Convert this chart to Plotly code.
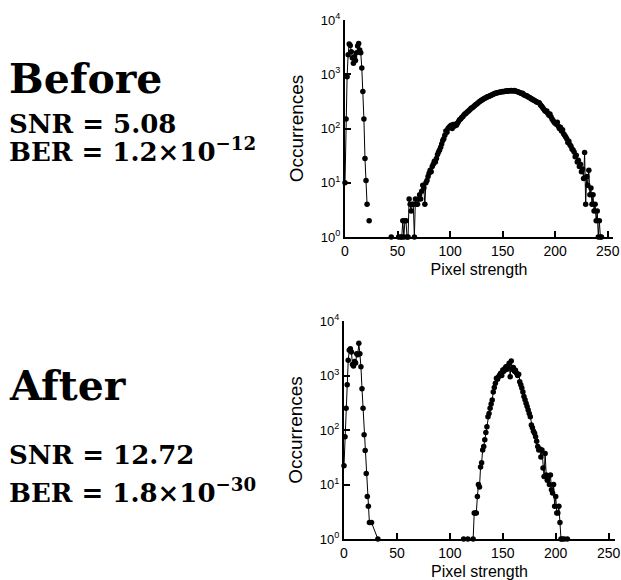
import plotly.graph_objects as go

# ---------------- data (histogram counts per pixel-strength bin) ----------------
before_low_start = 0
before_low = [10, 150, 900, 2300, 3600, 3400, 2600, 2000, 1600, 2100, 1800, 2500,
              3300, 3700, 2800, 2500, 1300, 480, 150, 28, 11, 4, None, 2]

before_high_start = 44
before_high = [1, None, None, None, None, None, None, 1, None, 1,          # 44-53
               1, 2, 1, 2, 2, 1, 1, 5, 4, 3,                              # 54-63
               4, 4, 1, 5, 4, 4,                                          # 64-69
               5, 6, 5, 7, 9, 8, 4, 10, 11, 13,                           # 70-79
               15, 17, 16, 20, 22, 25, 24, 28, 33, 37,                    # 80-89
               40, 45, 52, 60, 65, 75, 90, 85, 100, 105,                  # 90-99
               110, 115, 100, 118, 110, 120, 115, 125, 135, 145,          # 100-109
               150, 160, 165, 175, 185, 190, 200, 205, 215, 225,          # 110-119
               235, 240, 250, 260, 270, 280, 290, 300, 315, 320,          # 120-129
               335, 340, 355, 360, 370, 380, 385, 395, 400, 410,          # 130-139
               420, 430, 435, 445, 450, 455, 460, 465, 470, 475,          # 140-149
               480, 475, 485, 490, 485, 495, 490, 495, 500, 490,          # 150-159
               495, 500, 490, 485, 475, 470, 460, 450, 440, 445,          # 160-169
               420, 415, 400, 400, 385, 375, 370, 355, 350, 335,          # 170-179
               330, 320, 310, 305, 300, 295, 270, 260, 245, 230,          # 180-189
               215, 205, 210, 190, 175, 185, 165, 150, 140, 130,          # 190-199
               125, 120, 130, 110, 100, 105, 90, 95, 80, 75,              # 200-209
               70, 65, 55, 58, 50, 47, 42, 40, 37, 30,                    # 210-219
               32, 24, 26, 20, 22, 16, 18, 12, 36, 4,                     # 220-229
               13, 9, 17, 6, 8, 4, 6, 3, 4, 2,                            # 230-239
               3, 1, 2, 1, 1]                                             # 240-244

after_low_start = 0
after_low = [22, 75, 250, 680, 1900, 2900, 3100, 2700, 1600, 1500,        # 0-9
             1800, 1700, 2500, 2400, 3900, 2500, 1450, 570, 250, 82,      # 10-19
             42, 16, 6, 4, 2, None, 2, None, None, None,                  # 20-29
             None, None, 1]                                               # 30-32

after_high_start = 113
after_high = [1, None, None, None, 1, None, None, None, None, 1,          # 113-122
              3, 3, 3, 6, 10, 9, 21, 25, 43, 50,                          # 123-132
              66, 90, 115, 175, 200, 250, 300, 355, 500, 600,             # 133-142
              720, 890, 850, 950, 1020, 1100, 1000, 1260, 1200, 1350,     # 143-152
              1450, 1300, 1500, 1670, 950, 1850, 1300, 1400, 1200, 1250,  # 153-162
              1100, 1000, 1050, 770, 680, 590, 500, 410, 360, 310,        # 163-172
              270, 233, 200, 175, 123, 110, 95, 87, 75, 62,               # 173-182
              50, 43, 45, 32, 43, 20, 14, 37, 15, 12,                     # 183-192
              14, 10, 15, 8, 7, 10, 4, 6, 3, 3,                           # 193-202
              4, 2, 1, 1, None, 1, None, None, 1]                         # 203-211

x_tickvals = [0, 50, 100, 150, 200, 250]
y_tickvals = [1, 10, 100, 1000, 10000]
y_ticktext = ["10<sup>0</sup>", "10<sup>1</sup>", "10<sup>2</sup>",
              "10<sup>3</sup>", "10<sup>4</sup>"]

before_title = "Before"
before_snr = "SNR = 5.08"
before_ber = "BER = 1.2×10<sup>−12</sup>"
after_title = "After"
after_snr = "SNR = 12.72"
after_ber = "BER = 1.8×10<sup>−30</sup>"

# ---------------- figure ----------------
W, H = 621, 580
fig = go.Figure()


def bins(start, counts):
    return [start + i for i in range(len(counts))]


mk = dict(color="black", size=5.5)
ln = dict(color="black", width=1)

fig.add_trace(go.Scatter(x=bins(before_low_start, before_low), y=before_low,
                         mode="lines+markers", marker=mk, line=ln,
                         connectgaps=False, cliponaxis=False,
                         xaxis="x", yaxis="y", showlegend=False))
fig.add_trace(go.Scatter(x=bins(before_high_start, before_high), y=before_high,
                         mode="lines+markers", marker=mk, line=ln,
                         connectgaps=False, cliponaxis=False,
                         xaxis="x", yaxis="y", showlegend=False))
fig.add_trace(go.Scatter(x=bins(after_low_start, after_low), y=after_low,
                         mode="lines+markers", marker=mk, line=ln,
                         connectgaps=True, cliponaxis=False,
                         xaxis="x2", yaxis="y2", showlegend=False))
fig.add_trace(go.Scatter(x=bins(after_high_start, after_high), y=after_high,
                         mode="lines+markers", marker=mk, line=ln,
                         connectgaps=True, cliponaxis=False,
                         xaxis="x2", yaxis="y2", showlegend=False))

sans = "Liberation Sans, Arial, sans-serif"
tickfont = dict(family=sans, size=14, color="black")
xtitle_font = dict(family=sans, size=16, color="black")
ytitle_font = dict(family=sans, size=19, color="black")


def xaxis_cfg(x0px, x1px, anchor, rng):
    return dict(domain=[x0px / W, x1px / W], anchor=anchor, range=rng,
                automargin=False,
                showline=True, linecolor="black", linewidth=2,
                ticks="inside", ticklen=6, tickwidth=1.5, tickcolor="black",
                tickmode="array", tickvals=x_tickvals, tickfont=tickfont,
                showgrid=False, zeroline=False,
                title=dict(text="Pixel strength", font=xtitle_font, standoff=6))


def yaxis_cfg(y0px, y1px, anchor):
    return dict(domain=[1 - y1px / H, 1 - y0px / H], anchor=anchor, type="log",
                range=[0, 4], automargin=False,
                showline=True, linecolor="black", linewidth=2,
                ticks="inside", ticklen=6, tickwidth=1.5, tickcolor="black",
                tickmode="array", tickvals=y_tickvals, ticktext=y_ticktext,
                tickfont=dict(family=sans, size=13, color="black"),
                showgrid=False, zeroline=False,
                title=dict(text="Occurrences", font=ytitle_font, standoff=12))


fig.update_layout(
    width=W, height=H,
    margin=dict(l=0, r=0, t=0, b=0, autoexpand=False),
    paper_bgcolor="white", plot_bgcolor="white",
    showlegend=False,
    xaxis=xaxis_cfg(345, 613, "y", [0, 255]),
    yaxis=yaxis_cfg(20, 237, "x"),
    xaxis2=xaxis_cfg(344, 615, "y2", [0, 256]),
    yaxis2=yaxis_cfg(321, 539, "x2"),
)

big = dict(family="DejaVu Serif, serif", size=41, color="black")
mid = dict(family="DejaVu Serif, serif", size=26, color="black")


def ann(text, ypx, font):
    return dict(text="<b>" + text + "</b>", x=7 / W, y=1 - ypx / H,
                xref="paper", yref="paper", xanchor="left", yanchor="middle",
                showarrow=False, font=font)


fig.update_layout(annotations=[
    ann(before_title, 79, big),
    ann(before_snr, 124, mid),
    ann(before_ber, 150, mid),
    ann(after_title, 386, big),
    ann(after_snr, 455, mid),
    ann(after_ber, 491, mid),
])

fig.write_html("out.html", config={"displayModeBar": False},
               post_script="document.body.style.margin='0px';")
